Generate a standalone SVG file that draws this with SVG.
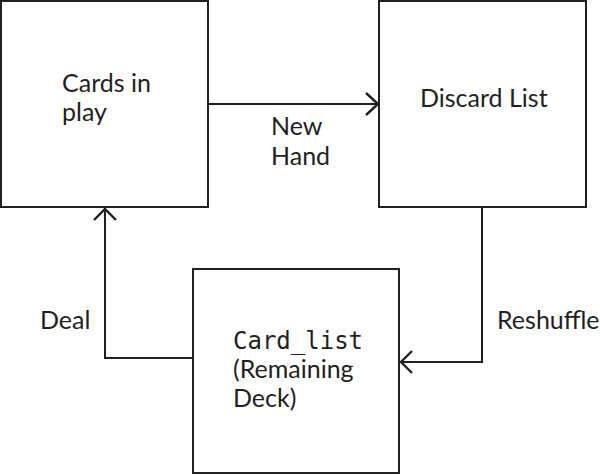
<svg xmlns="http://www.w3.org/2000/svg" width="600" height="476" viewBox="0 0 600 476">
<style>
.box{fill:#fff;stroke:#231f20;stroke-width:2}
.ln{fill:none;stroke:#231f20;stroke-width:2}
.ah{fill:none;stroke:#231f20;stroke-width:2.4;stroke-linejoin:miter}
.t{font-family:Lato,"Open Sans",sans-serif;font-size:25px;fill:#231f20}
.m{font-family:"DejaVu Sans Mono","Liberation Mono",monospace;font-size:24px;fill:#231f20}
</style>
<rect width="600" height="476" fill="#fff"/>
<g id="connectors">
<path class="ln" d="M208 104H378"/>
<path class="ah" d="M366 93L378 104L366 115"/>
<path class="ln" d="M193 358H105V209"/>
<path class="ah" d="M94 220L105 209L116 220"/>
<path class="ln" d="M482 207V362H401"/>
<path class="ah" d="M412 351L401 362L412 373"/>
<text class="t" x="271" y="135">New</text>
<text class="t" x="271" y="165">Hand</text>
<text class="t" x="40" y="329">Deal</text>
<text class="t" x="497" y="329">Reshuffle</text>
</g>
<g id="cards-in-play">
<rect class="box" x="1" y="1" width="207" height="206"/>
<text class="t" x="62" y="92">Cards in</text>
<text class="t" x="62" y="121">play</text>
</g>
<g id="discard-list">
<rect class="box" x="379" y="1" width="207" height="206"/>
<text class="t" x="420" y="107">Discard List</text>
</g>
<g id="card-list">
<rect class="box" x="193" y="269" width="206" height="204"/>
<text class="m" x="233" y="349">Card_list</text>
<text class="t" x="233" y="378">(Remaining</text>
<text class="t" x="233" y="407">Deck)</text>
</g>
</svg>
